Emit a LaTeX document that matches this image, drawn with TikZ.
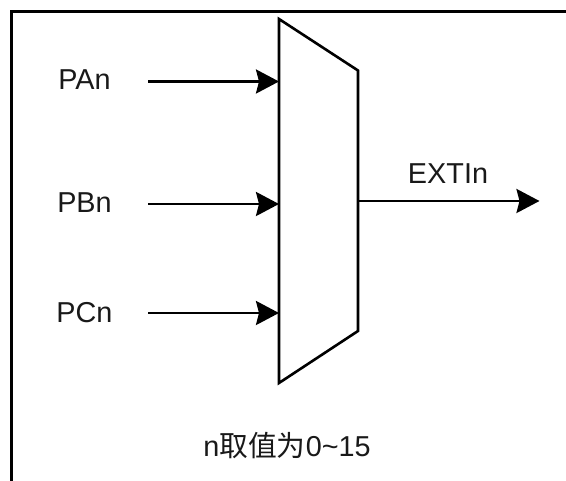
\documentclass[tikz,border=0pt]{standalone}
\usepackage{fontspec}
\setmainfont{Liberation Sans}
\newfontfamily\cjk{Noto Sans CJK SC}
\usetikzlibrary{arrows.meta}
\tikzset{
  lbl/.style={inner sep=0pt,font=\fontsize{28.8}{32}\selectfont,text=black!90},
  wire/.style={line width=2.6pt,-{Stealth[length=23pt,width=24pt,inset=3pt]}},
  outline/.style={line width=2.6pt,line join=miter},
  frame/.style={line width=3.4pt,line join=miter}
}
\begin{document}
\begin{tikzpicture}[x=1pt,y=-1pt]
\useasboundingbox (0,0) rectangle (566,481);
\fill[white] (0,0) rectangle (566,481);
\coordinate (fa) at (11.5,482);
\coordinate (fb) at (11.5,11.5);
\coordinate (fc) at (567,11.5);
\draw[frame] (fa) -- (fb) -- (fc);
\coordinate (t1) at (279,19);
\coordinate (t2) at (358,70.5);
\coordinate (t3) at (358,331);
\coordinate (t4) at (279,383);
\draw[outline] (t1) -- (t2) -- (t3) -- (t4) -- cycle;
\node[lbl] (pa) at (84.5,80) {PAn};
\node[lbl] (pb) at (84.5,203) {PBn};
\node[lbl] (pc) at (84.5,313) {PCn};
\node[lbl] (ex) at (448,174) {EXTIn};
\node[lbl] (nt) at (287,446) {n{\cjk 取值为}0\textasciitilde 15};
\coordinate (sa) at (148,81.5);
\coordinate (sb) at (148,204);
\coordinate (sc) at (148,313);
\coordinate (ea) at (279,81.5);
\coordinate (eb) at (279,204);
\coordinate (ec) at (279,313);
\coordinate (so) at (358,201);
\coordinate (eo) at (539.5,201);
\draw[wire] (sa) -- (ea);
\draw[wire] (sb) -- (eb);
\draw[wire] (sc) -- (ec);
\draw[wire] (so) -- (eo);
\end{tikzpicture}
\end{document}
